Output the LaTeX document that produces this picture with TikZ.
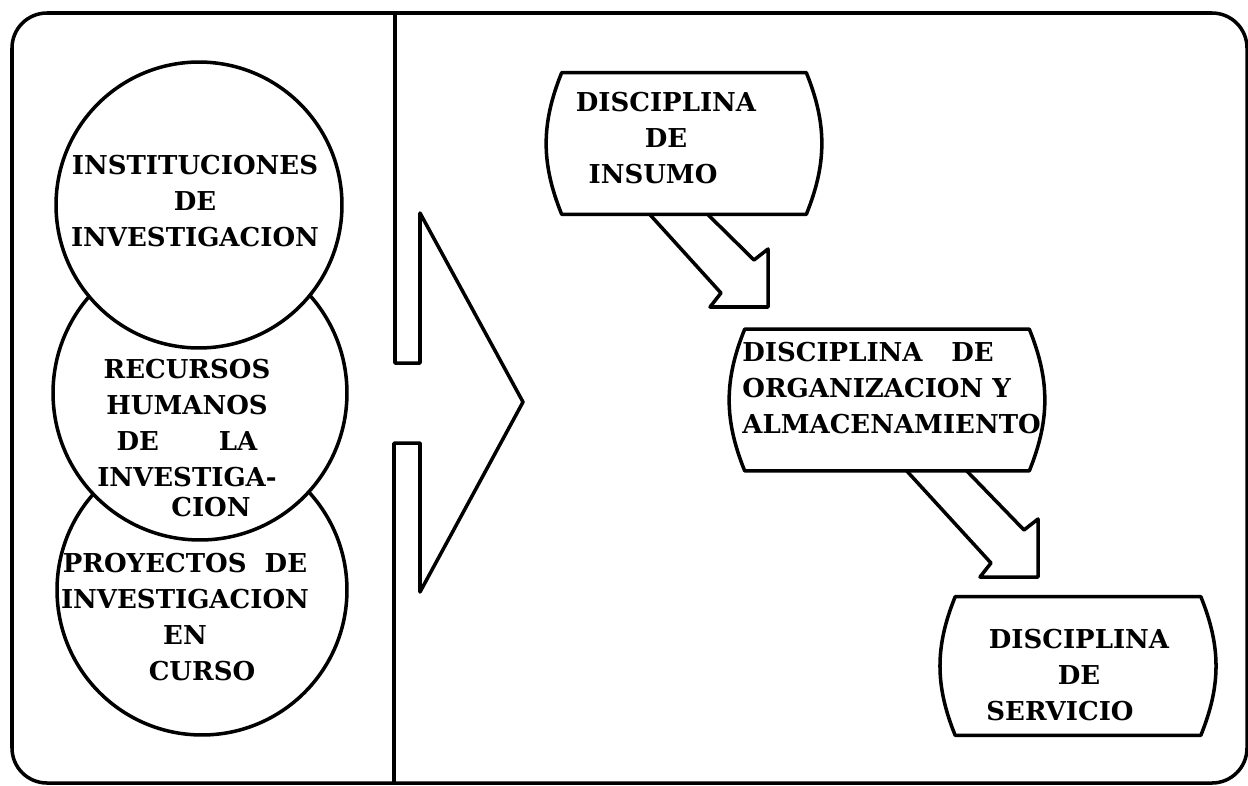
\documentclass[tikz,border=0pt]{standalone}
\usepackage{fontspec}
\setmainfont{DejaVu Serif}
\usetikzlibrary{positioning, calc}
\tikzstyle{circnode} = [circle, draw=black, fill=white, line width=2pt, inner sep=0pt]
\tikzstyle{discbox} = [rectangle, inner sep=0pt, minimum height=2.82cm]
\tikzstyle{labeltext} = [inner sep=0pt, align=center, font=\bfseries\fontsize{14.8}{20.5}\selectfont]
\tikzstyle{outline} = [line width=2pt, line join=round]
\newcommand{\bulgeframe}[1]{%
  \draw[outline] (#1.north west) to[bend right=22] (#1.south west) -- (#1.south east) to[bend right=22] (#1.north east) -- cycle;}
\newcommand{\blockarrow}[3]{%
  \draw[outline] (#1) -- ($(#3)+(-47,-14)$) -- ($(#3)+(-58,0)$) -- (#3) -- ($(#3)+(0,-58)$) -- ($(#3)+(-14,-47)$) -- (#2);}
\begin{document}
\begin{tikzpicture}[x=0.02cm, y=-0.02cm]
    \useasboundingbox (0,0) rectangle (1248,785);
    % Frame and divider with the big arrow
    \draw[outline, rounded corners=0.7cm] (12,13) rectangle (1247,783);
    \draw[outline] (395,13) -- (395,363) -- (420,363) -- (420,213) -- (523,402) -- (420,592) -- (420,443) -- (394,443) -- (394,783);

    % Circles, lowest first
    \node[circnode, minimum size=5.8cm] (proyectos) at (202,590) {};
    \node[circnode, minimum size=5.88cm] (recursos) at (200,393) {};
    \node[circnode, minimum size=5.72cm] (instituciones) at (199,205) {};

    % Circle texts
    \node[labeltext] (institxt) at (195,201) {INSTITUCIONES\\DE\\INVESTIGACION};
    \node[labeltext] (recurtxt) at (187,438) {RECURSOS\\HUMANOS\\DE\hspace{2.3em}LA\\INVESTIGA-\\[-3pt]\hspace*{0.96cm}CION};
    \node[labeltext] (proyetxt) at (185,617) {PROYECTOS\hspace{0.7em}DE\\INVESTIGACION\\EN\\\hspace*{0.68cm}CURSO};

    % Discipline boxes
    \node[discbox, minimum width=4.88cm] (insumo) at (684,143.5) {};
    \node[discbox, minimum width=5.68cm] (organizacion) at (887,400) {};
    \node[discbox, minimum width=4.9cm, minimum height=2.76cm] (servicio) at (1078,666) {};
    \bulgeframe{insumo}
    \bulgeframe{organizacion}
    \bulgeframe{servicio}

    % Box texts
    \node[labeltext] (insumotxt) at (666,138) {DISCIPLINA\\DE\\INSUMO\hspace*{0.52cm}};
    \node[labeltext, align=left, anchor=west] (organiztxt) at (742,388) {DISCIPLINA\hspace{1.1em}DE\\ORGANIZACION Y\\ALMACENAMIENTO};
    \node[labeltext] (serviciotxt) at (1079,675) {DISCIPLINA\\DE\\SERVICIO\hspace*{0.76cm}};

    % Block arrows
    \coordinate (tipone) at (768,307);
    \coordinate (tiptwo) at (1038,577);
    \blockarrow{$(insumo.south west)+(88,0)$}{$(insumo.south west)+(146,0)$}{tipone}
    \blockarrow{$(organizacion.south west)+(162,0)$}{$(organizacion.south west)+(222,0)$}{tiptwo}
\end{tikzpicture}
\end{document}
